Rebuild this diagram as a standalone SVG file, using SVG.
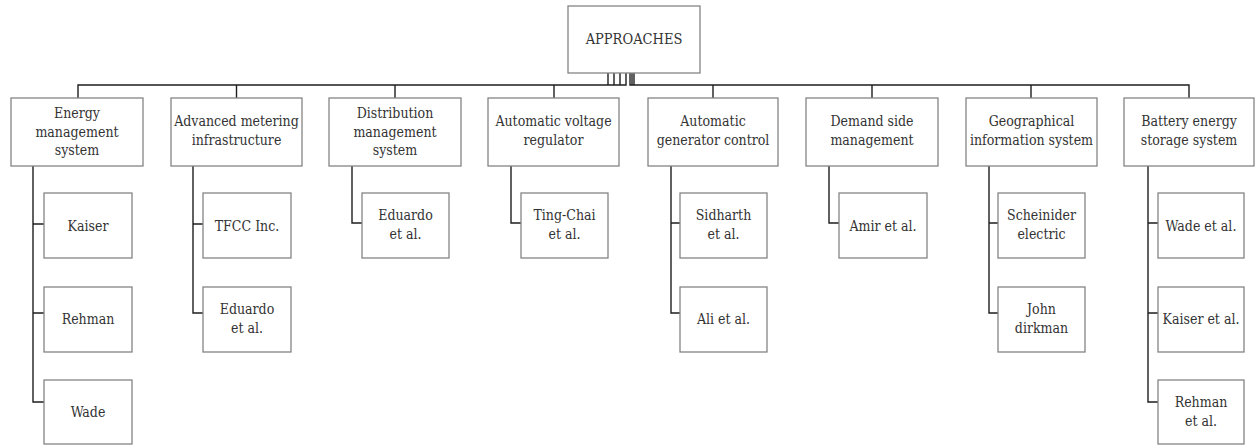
<svg xmlns="http://www.w3.org/2000/svg" width="1255" height="445" viewBox="0 0 1255 445">
<style>
.b{fill:#fff;stroke:#858585;stroke-width:1.3}
.t{font-family:"DejaVu Serif Condensed","DejaVu Serif",serif;font-stretch:condensed;font-size:14px;fill:#333;text-anchor:middle}
.c{fill:none;stroke:#1e1e1e;stroke-width:1.4}
</style>
<rect width="1255" height="445" fill="#fff"/>
<g id="connectors">
<path class="c" d="M608,73V85H78V98M614,73V85H236.5V98M620,73V85H395V98M626,73V85H554V98"/>
<path class="c" d="M630,73V85H713V98M632,73V85H872V98M634,73V85H1031V98M634,73V85H1189V98"/>
<path class="c" d="M33,166V402H44M33,224H44M33,313H44"/>
<path class="c" d="M193,166V313H203M193,224H203"/>
<path class="c" d="M352,166V223H362"/>
<path class="c" d="M511,166V223H521"/>
<path class="c" d="M671,166V313H680M671,223H680"/>
<path class="c" d="M829,166V223H839"/>
<path class="c" d="M989,166V313H998M989,223H998"/>
<path class="c" d="M1148,166V402H1158M1148,223H1158M1148,313H1158"/>
</g>
<g id="root"><rect class="b" x="568" y="6" width="132" height="67"/><text class="t" x="634" y="44" style="font-size:14.5px">APPROACHES</text></g>
<g id="ems"><rect class="b" x="11" y="98" width="132" height="68"/><text class="t" x="77" y="118">Energy</text><text class="t" x="77" y="136.5">management</text><text class="t" x="77" y="155">system</text></g>
<g id="ami"><rect class="b" x="171" y="98" width="131" height="68"/><text class="t" x="236.5" y="126">Advanced metering</text><text class="t" x="236.5" y="145">infrastructure</text></g>
<g id="dms"><rect class="b" x="329" y="98" width="132" height="68"/><text class="t" x="395" y="118">Distribution</text><text class="t" x="395" y="136.5">management</text><text class="t" x="395" y="155">system</text></g>
<g id="avr"><rect class="b" x="488" y="98" width="131" height="68"/><text class="t" x="553.5" y="126">Automatic voltage</text><text class="t" x="553.5" y="145">regulator</text></g>
<g id="agc"><rect class="b" x="648" y="98" width="130" height="68"/><text class="t" x="713" y="126">Automatic</text><text class="t" x="713" y="145">generator control</text></g>
<g id="dsm"><rect class="b" x="806" y="98" width="132" height="68"/><text class="t" x="872" y="126">Demand side</text><text class="t" x="872" y="145">management</text></g>
<g id="gis"><rect class="b" x="966" y="98" width="131" height="68"/><text class="t" x="1031.5" y="126">Geographical</text><text class="t" x="1031.5" y="145">information system</text></g>
<g id="bess"><rect class="b" x="1124" y="98" width="130" height="68"/><text class="t" x="1189" y="126">Battery energy</text><text class="t" x="1189" y="145">storage system</text></g>
<g id="kaiser"><rect class="b" x="44" y="193" width="88" height="65"/><text class="t" x="88" y="231">Kaiser</text></g>
<g id="rehman"><rect class="b" x="44" y="287" width="88" height="65"/><text class="t" x="88" y="324">Rehman</text></g>
<g id="wade"><rect class="b" x="44" y="380" width="88" height="64"/><text class="t" x="88" y="417">Wade</text></g>
<g id="tfcc"><rect class="b" x="203" y="193" width="88" height="65"/><text class="t" x="247" y="231">TFCC Inc.</text></g>
<g id="eduardo1"><rect class="b" x="203" y="287" width="88" height="65"/><text class="t" x="247" y="314">Eduardo</text><text class="t" x="247" y="333">et al.</text></g>
<g id="eduardo2"><rect class="b" x="362" y="193" width="87" height="65"/><text class="t" x="405.5" y="220">Eduardo</text><text class="t" x="405.5" y="239">et al.</text></g>
<g id="tingchai"><rect class="b" x="521" y="193" width="87" height="65"/><text class="t" x="564.5" y="220">Ting-Chai</text><text class="t" x="564.5" y="239">et al.</text></g>
<g id="sidharth"><rect class="b" x="680" y="193" width="87" height="65"/><text class="t" x="723.5" y="220">Sidharth</text><text class="t" x="723.5" y="239">et al.</text></g>
<g id="ali"><rect class="b" x="680" y="287" width="87" height="65"/><text class="t" x="723.5" y="324">Ali et al.</text></g>
<g id="amir"><rect class="b" x="839" y="193" width="88" height="65"/><text class="t" x="883" y="231">Amir et al.</text></g>
<g id="scheinider"><rect class="b" x="998" y="193" width="87" height="65"/><text class="t" x="1041.5" y="220">Scheinider</text><text class="t" x="1041.5" y="239">electric</text></g>
<g id="john"><rect class="b" x="998" y="287" width="87" height="65"/><text class="t" x="1041.5" y="314">John</text><text class="t" x="1041.5" y="333">dirkman</text></g>
<g id="wadeetal"><rect class="b" x="1158" y="193" width="86" height="65"/><text class="t" x="1201" y="231">Wade et al.</text></g>
<g id="kaiseretal"><rect class="b" x="1158" y="287" width="86" height="65"/><text class="t" x="1201" y="324">Kaiser et al.</text></g>
<g id="rehmanetal"><rect class="b" x="1158" y="380" width="86" height="64"/><text class="t" x="1201" y="407">Rehman</text><text class="t" x="1201" y="426">et al.</text></g>
</svg>
